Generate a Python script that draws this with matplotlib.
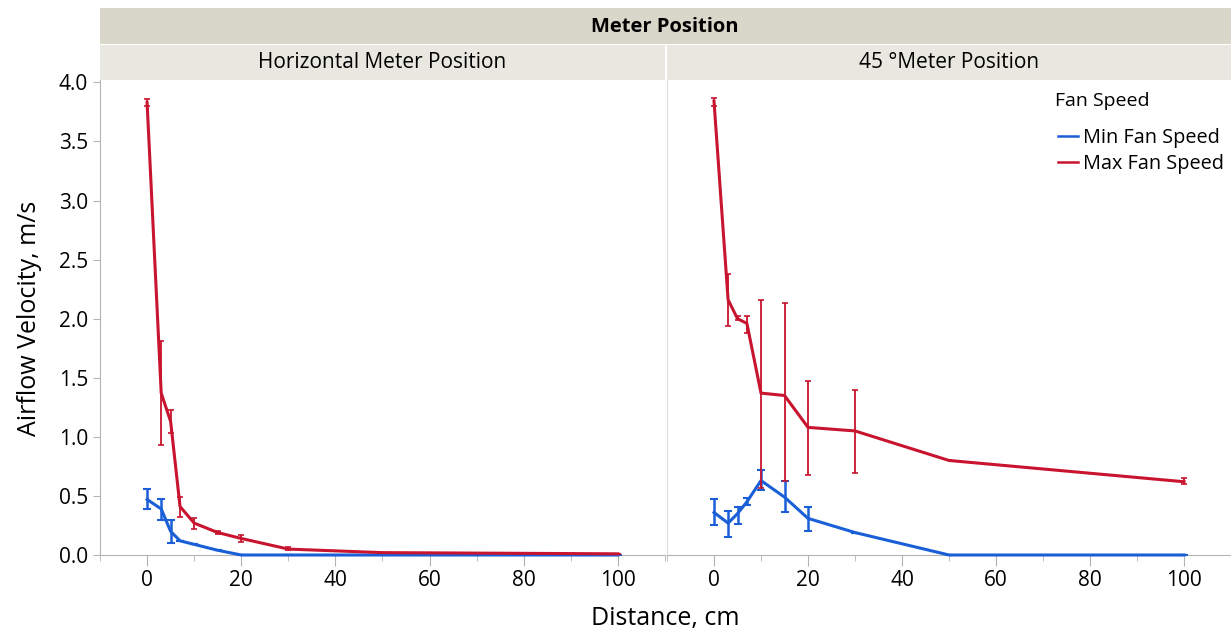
import numpy as np
import matplotlib
matplotlib.use('Agg')
import matplotlib.pyplot as plt
from matplotlib.patches import Rectangle

plt.rcParams['font.family'] = ['Open Sans', 'DejaVu Sans']

# distance (cm) and airflow velocity (m/s)
# horizontal meter position
h_max_x = [0, 3, 5, 7, 10, 15, 20, 30, 50, 100]
h_max_y = [3.83, 1.37, 1.13, 0.41, 0.27, 0.19, 0.14, 0.05, 0.02, 0.01]
h_max_lo = [3.80, 0.93, 1.03, 0.32, 0.22, 0.18, 0.11, 0.04, 0.02, 0.01]
h_max_hi = [3.86, 1.81, 1.23, 0.49, 0.31, 0.20, 0.17, 0.07, 0.02, 0.01]

h_min_x = [0, 3, 5, 7, 10, 15, 20, 30, 50, 100]
h_min_y = [0.47, 0.39, 0.20, 0.12, 0.09, 0.04, 0.0, 0.0, 0.0, 0.0]
h_min_lo = [0.39, 0.30, 0.10, 0.12, 0.09, 0.04, 0.0, 0.0, 0.0, 0.0]
h_min_hi = [0.56, 0.47, 0.30, 0.12, 0.09, 0.04, 0.0, 0.0, 0.0, 0.0]

# 45 degree meter position
d_max_x = [0, 3, 5, 7, 10, 15, 20, 30, 50, 100]
d_max_y = [3.84, 2.16, 2.00, 1.96, 1.37, 1.35, 1.08, 1.05, 0.80, 0.62]
d_max_lo = [3.80, 1.94, 1.99, 1.88, 0.57, 0.63, 0.68, 0.69, 0.80, 0.60]
d_max_hi = [3.87, 2.38, 2.02, 2.02, 2.16, 2.13, 1.47, 1.40, 0.80, 0.65]

d_min_x = [0, 3, 5, 7, 10, 15, 20, 30, 50, 100]
d_min_y = [0.36, 0.27, 0.35, 0.45, 0.63, 0.49, 0.31, 0.19, 0.0, 0.0]
d_min_lo = [0.25, 0.15, 0.26, 0.42, 0.55, 0.36, 0.20, 0.19, 0.0, 0.0]
d_min_hi = [0.47, 0.37, 0.41, 0.48, 0.72, 0.63, 0.41, 0.19, 0.0, 0.0]

panel_titles = ['Horizontal Meter Position', '45 \u00b0Meter Position']
series_names = ['Min Fan Speed', 'Max Fan Speed']

blue = '#1a5fd8'
red = '#c8142e'
grid_grey = '#b4b4b4'

W, H = 1231, 637
fig = plt.figure(figsize=(W / 100, H / 100), dpi=100)


def fx(px):
    return px / W


def fy(py):
    return 1 - py / H


# header bars
fig.patches.append(Rectangle((fx(100), fy(44)), fx(1131), 36 / H, transform=fig.transFigure,
                             facecolor='#d9d7c9', edgecolor='none'))
fig.text(fx(665), fy(27), 'Meter Position', ha='center', va='center', fontsize=14.5, fontweight='bold')
for x0, x1, t in [(100, 665, panel_titles[0]), (667, 1231, panel_titles[1])]:
    fig.patches.append(Rectangle((fx(x0), fy(80)), fx(x1 - x0), 35 / H, transform=fig.transFigure,
                                 facecolor='#e9e8e0', edgecolor='none'))
    fig.text(fx((x0 + x1) / 2), fy(63), t, ha='center', va='center', fontsize=15)

ax1 = fig.add_axes([fx(100), fy(555), fx(565), 475 / H])
ax2 = fig.add_axes([fx(667), fy(555), fx(564), 475 / H])


def draw(ax, mx, my, mlo, mhi, rx, ry, rlo, rhi):
    my, mlo, mhi = np.array(my), np.array(mlo), np.array(mhi)
    ry, rlo, rhi = np.array(ry), np.array(rlo), np.array(rhi)
    lb, = ax.plot(mx, my, color=blue, lw=2.2, zorder=3, clip_on=False)
    ax.errorbar(mx, my, yerr=[my - mlo, mhi - my], fmt='none', ecolor=blue,
                elinewidth=1.8, capsize=3, capthick=1.5, zorder=3)
    lr, = ax.plot(rx, ry, color=red, lw=2.2, zorder=4, clip_on=False)
    ax.errorbar(rx, ry, yerr=[ry - rlo, rhi - ry], fmt='none', ecolor=red,
                elinewidth=1.3, capsize=2.5, capthick=1.2, zorder=4)
    ax.set_xlim(-10, 110)
    ax.set_ylim(0, 4.02)
    ax.set_xticks([0, 20, 40, 60, 80, 100])
    ax.set_xticks(np.arange(-10, 111, 10), minor=True)
    for s in ['top', 'right']:
        ax.spines[s].set_visible(False)
    for s in ['left', 'bottom']:
        ax.spines[s].set_color(grid_grey)
    ax.tick_params(axis='x', which='major', length=8, color=grid_grey, labelsize=15, pad=3)
    ax.tick_params(axis='x', which='minor', length=4, color=grid_grey)
    return lb, lr


draw(ax1, h_min_x, h_min_y, h_min_lo, h_min_hi, h_max_x, h_max_y, h_max_lo, h_max_hi)
lb, lr = draw(ax2, d_min_x, d_min_y, d_min_lo, d_min_hi, d_max_x, d_max_y, d_max_lo, d_max_hi)

ax1.set_yticks(np.arange(0, 4.01, 0.5))
ax1.set_yticklabels(['%.1f' % v for v in np.arange(0, 4.01, 0.5)])
ax1.tick_params(axis='y', length=5, color=grid_grey, labelsize=15)
ax2.set_yticks([])
ax2.spines['left'].set_color('#dcdcdc')

fig.text(fx(30), fy(318), 'Airflow Velocity, m/s', rotation=90, ha='center', va='center', fontsize=18)
fig.text(fx(665), fy(618), 'Distance, cm', ha='center', va='center', fontsize=18)

# legend: title placed separately to get the wider gap
fig.text(fx(1055), fy(101), 'Fan Speed', ha='left', va='center', fontsize=14)
leg = ax2.legend([lb, lr], series_names, loc='upper left',
                 bbox_to_anchor=(fx(1050 - 667) / fx(564), (555 - 120) / 475), frameon=False,
                 fontsize=14.3, handlelength=1.0, handletextpad=0.25, labelspacing=0.3,
                 borderaxespad=0)
for line in leg.get_lines():
    line.set_linewidth(1.8)

fig.savefig('out.png', dpi=100)
